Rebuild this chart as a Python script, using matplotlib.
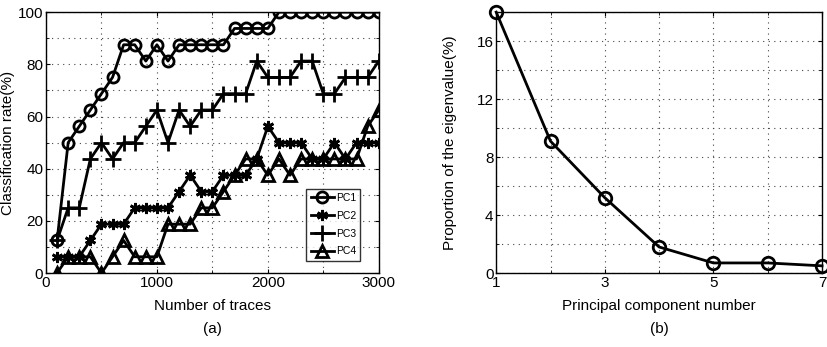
import numpy as np
import matplotlib
matplotlib.use("Agg")
import matplotlib.pyplot as plt
from matplotlib.ticker import MultipleLocator, FixedLocator

plt.rcParams['font.family'] = ['Liberation Sans', 'DejaVu Sans']

# (a) classification rate vs number of traces
traces = list(range(100, 3001, 100))
pc1 = [12.5, 50, 56.25, 62.5, 68.75, 75, 87.5, 87.5, 81.25, 87.5,
       81.25, 87.5, 87.5, 87.5, 87.5, 87.5, 93.75, 93.75, 93.75, 93.75,
       100, 100, 100, 100, 100, 100, 100, 100, 100, 100]
pc2 = [6.25, 6.25, 6.25, 12.5, 18.75, 18.75, 18.75, 25, 25, 25,
       25, 31.25, 37.5, 31.25, 31.25, 37.5, 37.5, 37.5, 43.75, 56.25,
       50, 50, 50, 43.75, 43.75, 50, 43.75, 50, 50, 50]
pc3 = [12.5, 25, 25, 43.75, 50, 43.75, 50, 50, 56.25, 62.5,
       50, 62.5, 56.25, 62.5, 62.5, 68.75, 68.75, 68.75, 81.25, 75,
       75, 75, 81.25, 81.25, 68.75, 68.75, 75, 75, 75, 81.25]
pc4 = [0, 6.25, 6.25, 6.25, 0, 6.25, 12.5, 6.25, 6.25, 6.25,
       18.75, 18.75, 18.75, 25, 25, 31.25, 37.5, 43.75, 43.75, 37.5,
       43.75, 37.5, 43.75, 43.75, 43.75, 43.75, 43.75, 43.75, 56.25, 62.5]

# (b) eigenvalue proportion
pc_num = [1, 2, 3, 4, 5, 6, 7]
eig_prop = [18, 9.1, 5.2, 1.8, 0.7, 0.7, 0.5]


def style_axes(ax):
    ax.tick_params(direction='in', which='both', top=True, right=True,
                   labelsize=11, length=3, pad=2)
    ax.tick_params(which='minor', length=2)
    ax.grid(True, which='both', ls=(0, (1, 4)), color='#444444', lw=0.8)
    for s in ax.spines.values():
        s.set_linewidth(1.0)


fig = plt.figure(figsize=(8.27, 3.47), dpi=100)
ax1 = fig.add_axes([0.0556, 0.213, 0.4024, 0.752])
ax2 = fig.add_axes([0.600, 0.213, 0.394, 0.752])

kw = dict(color='black', lw=2.0, mew=2.0, ms=8, mfc='none')
ax1.plot(traces, pc1, marker='o', label='PC1', **kw)
ax1.plot(traces, pc2, marker=(6, 2, 0), label='PC2', **kw)
ax1.plot(traces, pc3, marker='+', label='PC3', color='black', lw=2.0,
         mew=2.0, ms=11)
ax1.plot(traces, pc4, marker='^', label='PC4', **kw)
ax1.set_xlim(0, 3000)
ax1.set_ylim(0, 100)
ax1.xaxis.set_major_locator(MultipleLocator(1000))
ax1.xaxis.set_minor_locator(MultipleLocator(500))
ax1.yaxis.set_major_locator(MultipleLocator(20))
ax1.yaxis.set_minor_locator(MultipleLocator(10))
style_axes(ax1)
ax1.set_xlabel('Number of traces', fontsize=11)
ax1.set_ylabel('Classification rate(%)', fontsize=11)
ax1.xaxis.set_label_coords(0.5, -0.10)
ax1.yaxis.set_label_coords(-0.093, 0.5)
leg = ax1.legend(loc='lower right', bbox_to_anchor=(0.95, 0.04),
                 fontsize=7.5, frameon=True, fancybox=False,
                 edgecolor='black', handlelength=2.2, handletextpad=0.2,
                 borderpad=0.4, labelspacing=0.75, borderaxespad=0.2)
leg.get_frame().set_linewidth(1.0)
ax1.text(0.5, -0.215, '(a)', transform=ax1.transAxes, ha='center',
         va='center', fontsize=11)

ax2.plot(pc_num, eig_prop, marker='o', color='black', lw=2.0, mew=2.0,
         ms=9, mfc='none', clip_on=False)
ax2.set_xlim(1, 7)
ax2.set_ylim(0, 18)
ax2.xaxis.set_major_locator(FixedLocator([1, 3, 5, 7]))
ax2.xaxis.set_minor_locator(MultipleLocator(1))
ax2.yaxis.set_major_locator(MultipleLocator(4))
ax2.yaxis.set_minor_locator(MultipleLocator(2))
style_axes(ax2)
ax2.set_xlabel('Principal component number', fontsize=11)
ax2.set_ylabel('Proportion of the eigenvalue(%)', fontsize=11)
ax2.xaxis.set_label_coords(0.5, -0.10)
ax2.yaxis.set_label_coords(-0.12, 0.5)
ax2.text(0.5, -0.215, '(b)', transform=ax2.transAxes, ha='center',
         va='center', fontsize=11)

fig.savefig('out.png', dpi=100)
